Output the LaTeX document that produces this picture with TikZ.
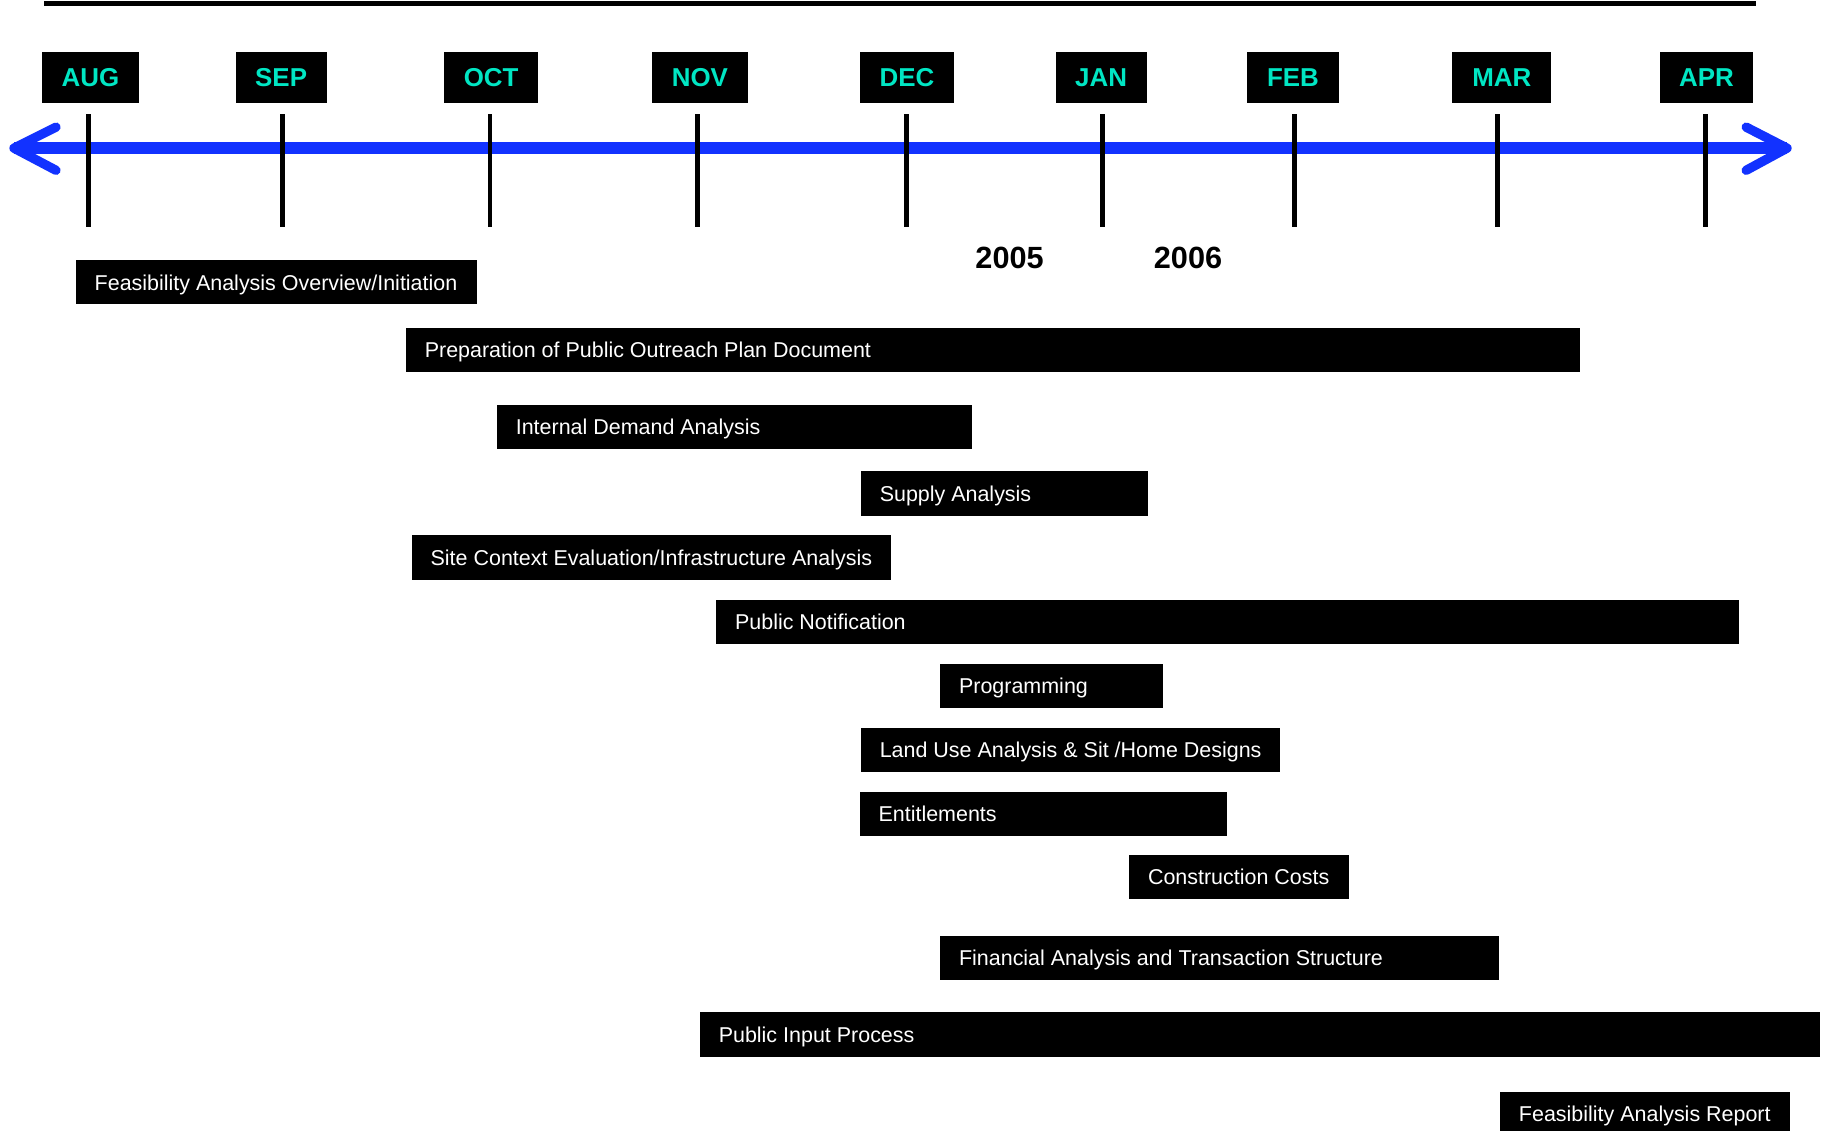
\documentclass[tikz,border=0pt]{standalone}
\usepackage{fontspec}
\setmainfont{Liberation Sans}
\definecolor{tlblue}{RGB}{18,50,255}
\definecolor{moncyan}{RGB}{0,230,195}
\newcommand\taskbar[5]{%
  \pgfmathsetmacro\tbw{#3-#2-32}%
  \node[bar] (#1) at (#2,#4+19) {\makebox[\tbw pt][l]{#5}};}
\begin{document}
\begin{tikzpicture}[x=1pt,y=-1pt,
  month/.style={fill=black, text=moncyan, font=\fontsize{22.2}{24}\selectfont\bfseries, minimum height=43pt, inner sep=0pt, text depth=0pt},
  bar/.style={fill=black, text=white, font=\fontsize{18.4}{20}\selectfont, minimum height=38pt, inner xsep=16pt, inner ysep=0pt, anchor=west, text depth=0pt},
  tickline/.style={line width=4pt, black},
  year/.style={font=\fontsize{26.3}{28}\selectfont\bfseries, text=black},
  axis/.style={line width=10pt, tlblue},
  head/.style={line width=8pt, tlblue, line cap=round, line join=round}]
\useasboundingbox (0,0) rectangle (1568,969);
\clip (0,0) rectangle (1568,969);
% top rule
\coordinate (tl) at (38,3);
\coordinate (tr) at (1505,3);
\draw[line width=4pt] (tl) -- (tr);
% blue axis
\coordinate (la) at (12,127);
\coordinate (ra) at (1532,127);
\draw[axis] (la) -- (ra);
\draw[head] (48,109) -- (12,127) -- (48,146);
\draw[head] (1497,109) -- (1532,127) -- (1497,146);
% months
\node[month, minimum width=83pt] (aug) at (77.5,66.5) {AUG};
\node[month, minimum width=78pt] (sep) at (241,66.5) {SEP};
\node[month, minimum width=80pt] (oct) at (421,66.5) {OCT};
\node[month, minimum width=82pt] (nov) at (600,66.5) {NOV};
\node[month, minimum width=81pt] (dec) at (777.5,66.5) {DEC};
\node[month, minimum width=78pt] (jan) at (944,66.5) {JAN};
\node[month, minimum width=79pt] (feb) at (1108.5,66.5) {FEB};
\node[month, minimum width=85pt] (mar) at (1287.5,66.5) {MAR};
\node[month, minimum width=80pt] (apr) at (1463,66.5) {APR};
% ticks
\foreach \tx in {76,242,420,598,777,945,1110,1284,1462}
  \draw[tickline] (\tx,98) -- (\tx,195);
% years
\node[year] (y2005) at (865.5,221) {2005};
\node[year] (y2006) at (1018.5,221) {2006};
% tasks
\taskbar{t1}{65}{409}{223}{Feasibility Analysis Overview/Initiation}
\taskbar{t2}{348}{1354}{281}{Preparation of Public Outreach Plan Document}
\taskbar{t3}{426}{833}{347}{Internal Demand Analysis}
\taskbar{t4}{738}{984}{404}{Supply Analysis}
\taskbar{t5}{353}{764}{459}{Site Context Evaluation/Infrastructure Analysis}
\taskbar{t6}{614}{1491}{514}{Public Notification}
\taskbar{t7}{806}{997}{569}{Programming}
\taskbar{t8}{738}{1097}{624}{Land Use Analysis \& Sit /Home Designs}
\taskbar{t9}{737}{1052}{679}{Entitlements}
\taskbar{t10}{968}{1156}{733}{Construction Costs}
\taskbar{t11}{806}{1285}{802}{Financial Analysis and Transaction Structure}
\taskbar{t12}{600}{1560}{868}{Public Input Process}
\taskbar{t13}{1286}{1534}{936}{Feasibility Analysis Report}
\end{tikzpicture}
\end{document}
